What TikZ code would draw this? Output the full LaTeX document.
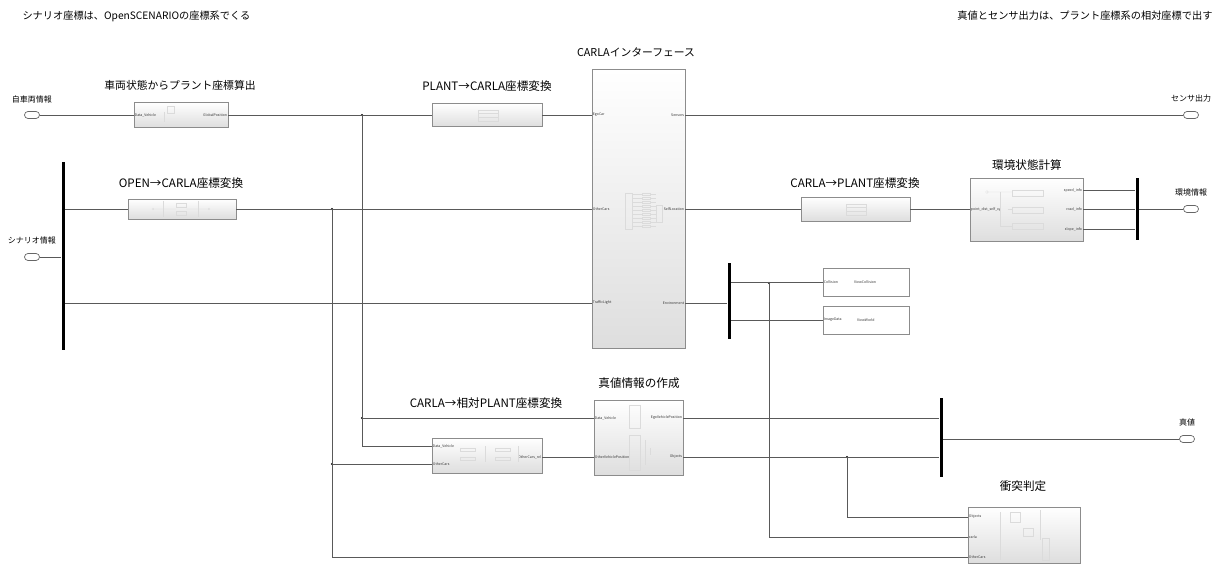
\documentclass[tikz,border=0pt]{standalone}
\usepackage{fontspec}
\setmainfont{Noto Sans CJK JP}
\usetikzlibrary{positioning, calc}

\begin{document}
\begin{tikzpicture}[x=1pt,y=-1pt,
  wire/.style={draw=black!65, line width=0.6pt},
  blk/.style={draw=black!45, line width=0.6pt, top color=white, bottom color=black!13, inner sep=0pt},
  viewblk/.style={draw=black!45, line width=0.6pt, fill=white, inner sep=0pt},
  bus/.style={fill=black, inner sep=0pt, minimum width=3pt},
  portio/.style={draw=black!60, line width=0.7pt, rounded corners=3.5pt, minimum width=15pt, minimum height=7pt, inner sep=0pt, fill=white},
  ttl/.style={font=\fontsize{11.6}{14}\selectfont},
  kttl/.style={font=\fontsize{10.8}{13}\selectfont},
  note/.style={font=\fontsize{10.2}{12}\selectfont},
  iolab/.style={font=\fontsize{8}{9}\selectfont},
  plab/.style={font=\fontsize{3.5}{4}\selectfont, inner sep=1pt, text=black!80},
  faint/.style={draw=black!14, line width=0.3pt}]
\useasboundingbox (0,0) rectangle (1227,564);

% notes
\node[note, anchor=west] (note_l) at (19,16) {シナリオ座標は、OpenSCENARIOの座標系でくる};
\node[note, anchor=east] (note_r) at (1216,16) {真値とセンサ出力は、プラント座標系の相対座標で出す};

% in / out ports
\node[portio] (in_ego) at (32,115) {};
\node[iolab, above=4pt of in_ego] (in_ego_t) {自車両情報};
\node[portio] (in_scn) at (32,257) {};
\node[iolab, above=5pt of in_scn] (in_scn_t) {シナリオ情報};
\node[portio] (out_sens) at (1191,115) {};
\node[iolab, above=5pt of out_sens] (out_sens_t) {センサ出力};
\node[portio] (out_env) at (1191,209) {};
\node[iolab, above=5pt of out_env] (out_env_t) {環境情報};
\node[portio] (out_true) at (1187,439) {};
\node[iolab, above=5pt of out_true] (out_true_t) {真値};

% blocks
\node[blk, minimum width=94pt, minimum height=25pt] (calc) at (181,115) {}; %vehicle state
\node[kttl] (calc_t) at (180,85) {車両状態からプラント座標算出};
\node[blk, minimum width=110pt, minimum height=23pt] (p2c) at (487,115) {};
\node[ttl] (p2c_t) at (487,86) {PLANT→CARLA座標変換};
\node[blk, minimum width=93pt, minimum height=279pt] (carla) at (638.5,208.5) {}; %CARLA
\node[kttl] (carla_t) at (636,52) {CARLAインターフェース};
\node[blk, minimum width=108pt, minimum height=20pt] (o2c) at (182,209) {};
\node[ttl] (o2c_t) at (181,183) {OPEN→CARLA座標変換};
\node[blk, minimum width=109pt, minimum height=24pt] (c2p) at (855.5,209) {};
\node[ttl] (c2p_t) at (855,183) {CARLA→PLANT座標変換};
\node[blk, minimum width=113pt, minimum height=63pt] (env) at (1026.5,209.5) {};
\node[ttl] (env_t) at (1027,165) {環境状態計算};
\node[viewblk, minimum width=86pt, minimum height=28pt] (viewcol) at (866,282) {};
\node[viewblk, minimum width=86pt, minimum height=28pt] (viewworld) at (866,320) {};
\node[blk, minimum width=89pt, minimum height=75pt] (truth) at (638.5,437.5) {};
\node[ttl] (truth_t) at (639,383) {真値情報の作成};
\node[blk, minimum width=110pt, minimum height=35pt] (rel) at (487,455.5) {};
\node[ttl] (rel_t) at (486,403) {CARLA→相対PLANT座標変換};
\node[blk, minimum width=112pt, minimum height=56pt] (coll) at (1024,535) {};
\node[ttl] (coll_t) at (1023,486) {衝突判定};

% bus bars
\node[bus, minimum height=188pt] (bus_scn) at (63,256) {};
\node[bus, minimum height=62pt] (bus_env) at (1137,209) {};
\node[bus, minimum height=76pt] (bus_view) at (729,301) {};
\node[bus, minimum height=79pt] (bus_true) at (941,437.5) {};

% block port labels
\node[plab, anchor=west] (calc_i) at (calc.west) {Data\_Vehicle};
\node[plab, anchor=east] (calc_o) at (calc.east) {GlobalPosition};
\node[plab, anchor=west] (carla_i1) at (carla.west |- 0,115) {EgoCar};
\node[plab, anchor=west] (carla_i2) at (carla.west |- 0,209) {OtherCars};
\node[plab, anchor=west] (carla_i3) at (carla.west |- 0,303) {TrafficLight};
\node[plab, anchor=east] (carla_o1) at (carla.east |- 0,115) {Sensors};
\node[plab, anchor=east] (carla_o2) at (carla.east |- 0,209) {SelfLocation};
\node[plab, anchor=east] (carla_o3) at (carla.east |- 0,303) {Environment};
\node[plab, anchor=west] (env_i) at (env.west |- 0,209) {point\_dist\_self\_xy};
\node[plab, anchor=east] (env_o1) at (env.east |- 0,190) {speed\_info};
\node[plab, anchor=east] (env_o2) at (env.east |- 0,209) {road\_info};
\node[plab, anchor=east] (env_o3) at (env.east |- 0,229) {slope\_info};
\node[plab, anchor=west] (viewcol_i) at (viewcol.west) {Collision};
\node[plab, anchor=west] (viewcol_n) at (853,282) {ViewCollision};
\node[plab, anchor=west] (viewworld_i) at (viewworld.west) {ImageData};
\node[plab, anchor=west] (viewworld_n) at (856,320) {ViewWorld};
\node[plab, anchor=west] (truth_i1) at (truth.west |- 0,418) {Data\_Vehicle};
\node[plab, anchor=west] (truth_i2) at (truth.west |- 0,457) {OtherVehiclePosition};
\node[plab, anchor=east] (truth_o1) at (truth.east |- 0,418) {EgoVehiclePosition};
\node[plab, anchor=east] (truth_o2) at (truth.east |- 0,457) {Objects};
\node[plab, anchor=west] (rel_i1) at (rel.west |- 0,446) {Data\_Vehicle};
\node[plab, anchor=west] (rel_i2) at (rel.west |- 0,464) {OtherCars};
\node[plab, anchor=east] (rel_o) at (rel.east |- 0,457) {OtherCars\_rel};
\node[plab, anchor=west] (coll_i1) at (coll.west |- 0,517) {Objects};
\node[plab, anchor=west] (coll_i2) at (coll.west |- 0,537) {carla};
\node[plab, anchor=west] (coll_i3) at (coll.west |- 0,557) {OtherCars};

% faint insides of the subsystems
\foreach \yy in {190,207,223}
  \draw[faint] (1012,\yy) rectangle ++(31,6);
\draw[faint] (987,192) circle (1.5pt) -- (1012,192);
\draw[faint] (env.west |- 0,209) ++(38,0) -- (1012,209);
\draw[faint] (1000,192) -- (1000,226) -- (1012,226);
\draw[faint] (625,193) rectangle (632,229);
\foreach \yy in {193,197,...,225}
  \draw[faint] (642,\yy) rectangle ++(8,2.5) (632,\yy+1) -- (642,\yy+1) (650,\yy+1) -- (656,\yy+1);
\draw[faint] (656,205) rectangle (662,222);
\draw[faint] (163,201) -- (163,217) (198,201) -- (198,217) (176,203) rectangle (186,207) (176,211) rectangle (186,215);
\draw[faint] (153,209) circle (1pt) -- (176,209) (186,209) -- (209,209) circle (1pt);
\draw[faint] (478,110) rectangle (498,121) (478,113) -- (498,113) (478,117) -- (498,117);
\draw[faint] (846,204) rectangle (866,215) (846,207) -- (866,207) (846,211) -- (866,211);
\draw[faint] (167,106) rectangle (174,113) (164,112) -- (164,122);
\draw[faint] (460,448) rectangle (475,451) (460,457) rectangle (475,460) (495,448) rectangle (510,451) (495,457) rectangle (510,460) (485,446) -- (485,462) (518,446) -- (518,462);
\draw[faint] (629,405) rectangle (640,428) (629,435) rectangle (640,470) (645,440) -- (645,465) (650,448) -- (650,455);
\draw[faint] (1010,512) rectangle (1020,522) (1023,528) rectangle (1033,536) (1042,538) rectangle (1049,560) (1000,512) -- (1000,560) (1040,510) -- (1040,540);

% junctions
\coordinate (j1) at (362,115);
\coordinate (j2) at (332,209);
\coordinate (j3) at (769,283);
\coordinate (j4) at (362,418);
\coordinate (j5) at (332,464);
\coordinate (j6) at (847,457);
\foreach \j in {j1,j2,j3,j4,j5,j6}
  \fill (\j) circle (1.1pt);

% wires
\draw[wire] (in_ego.east) -- (calc.west);
\draw[wire] (calc.east) -- (p2c.west);
\draw[wire] (p2c.east) -- (carla.west |- p2c.east);
\draw[wire] (carla.east |- out_sens.west) -- (out_sens.west);
\draw[wire] (in_scn.east) -- (bus_scn.west |- in_scn.east);
\draw[wire] (bus_scn.east |- o2c.west) -- (o2c.west);
\draw[wire] (o2c.east) -- (carla.west |- o2c.east);
\draw[wire] (bus_scn.east |- carla_i3.west) -- (carla_i3.west);
\draw[wire] (carla.east |- c2p.west) -- (c2p.west);
\draw[wire] (c2p.east) -- (env.west |- c2p.east);
\foreach \yy in {190,209,229}
  \draw[wire] (env.east |- 0,\yy) -- (bus_env.west |- 0,\yy);
\draw[wire] (bus_env.east |- out_env.west) -- (out_env.west);
\draw[wire] (carla.east |- carla_o3.east) -- (bus_view.west |- carla_o3.east);
\draw[wire] (bus_view.east |- viewcol.west) -- (viewcol.west);
\draw[wire] (bus_view.east |- viewworld.west) -- (viewworld.west);
\draw[wire] (j1) |- (rel.west |- rel_i1.west);
\draw[wire] (j4) -- (truth.west |- j4);
\draw[wire] (j2) |- (coll.west |- coll_i3.west);
\draw[wire] (j5) -- (rel.west |- j5);
\draw[wire] (rel.east |- rel_o.east) -- (truth.west |- rel_o.east);
\draw[wire] (truth.east |- truth_o1.east) -- (bus_true.west |- truth_o1.east);
\draw[wire] (truth.east |- truth_o2.east) -- (bus_true.west |- truth_o2.east);
\draw[wire] (bus_true.east |- out_true.west) -- (out_true.west);
\draw[wire] (j6) |- (coll.west |- coll_i1.west);
\draw[wire] (j3) |- (coll.west |- coll_i2.west);
\end{tikzpicture}
\end{document}
